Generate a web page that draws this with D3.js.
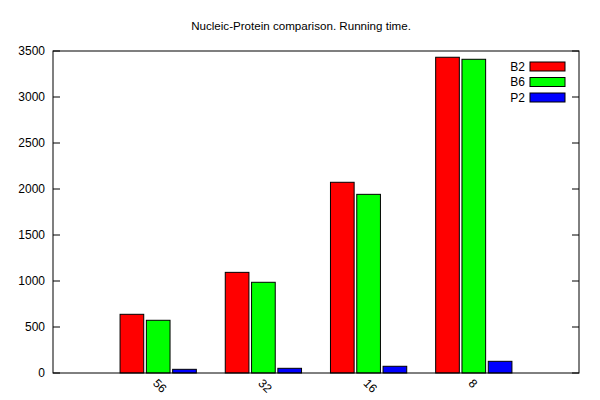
<!DOCTYPE html>
<meta charset="utf-8">
<head>
	<title>Nucleic-Protein comparison</title>
	<script type="text/javascript" src="https://cdn.jsdelivr.net/npm/d3@7"></script>
	<style>
		body { margin: 0; background: #fff; }
		text { font-family: "Liberation Sans", Arial, sans-serif; font-size: 12px; fill: #000; }
	</style>
</head>
<body>
	<div id="chart"></div>
	<script>

		// data
		const categories = ["56", "32", "16", "8"];
		const seriesNames = ["B2", "B6", "P2"];
		const seriesColors = ["#ff0000", "#00ff00", "#0000ff"];
		const b2 = [638, 1094, 2073, 3432];
		const b6 = [573, 986, 1942, 3410];
		const p2 = [40, 51, 73, 127];
		const yTicks = [0, 500, 1000, 1500, 2000, 2500, 3000, 3500];

		const width = 600;
		const height = 400;
		const margin = {top: 51, right: 21, bottom: 27, left: 53};

		const svg = d3.select("#chart")
			.append("svg")
			.attr("width", width)
			.attr("height", height);

		// gnuplot style clustered histogram: groups at 0..n-1, range -1..n
		var x = d3.scaleLinear()
			.domain([-1, categories.length])
			.range([margin.left, width - margin.right]);

		var y = d3.scaleLinear()
			.domain([0, 3500])
			.range([height - margin.bottom, margin.top]);

		const slot = 1 / (seriesNames.length + 1);
		const barW = slot * 0.9;
		const allSeries = [b2, b6, p2];

		// bars
		allSeries.forEach(function (vals, s) {
			svg.append("g")
				.selectAll("rect")
				.data(vals)
				.enter()
				.append("rect")
				.attr("x", (d, i) => x(i + (s - 1) * slot - barW / 2))
				.attr("width", x(barW) - x(0))
				.attr("y", d => y(d))
				.attr("height", d => y(0) - y(d))
				.attr("fill", seriesColors[s])
				.attr("stroke", "#000")
				.attr("stroke-width", 1);
		});

		// y axis, ticks inward on both sides
		var yAxis = svg.append("g");
		yAxis.selectAll("line.l")
			.data(yTicks)
			.enter().append("line")
			.attr("x1", margin.left).attr("x2", margin.left + 7)
			.attr("y1", d => y(d)).attr("y2", d => y(d))
			.attr("stroke", "#000");
		yAxis.selectAll("line.r")
			.data(yTicks)
			.enter().append("line")
			.attr("x1", width - margin.right - 7).attr("x2", width - margin.right)
			.attr("y1", d => y(d)).attr("y2", d => y(d))
			.attr("stroke", "#000");
		yAxis.selectAll("text")
			.data(yTicks)
			.enter().append("text")
			.attr("x", margin.left - 8)
			.attr("y", d => y(d))
			.attr("dy", "0.35em")
			.attr("text-anchor", "end")
			.text(d => d);

		// x tick labels, rotated
		svg.append("g")
			.selectAll("text")
			.data(categories)
			.enter().append("text")
			.attr("transform", (d, i) => `translate(${x(i)},${height - margin.bottom + 5}) rotate(45)`)
			.attr("dy", "0.7em")
			.text(d => d);

		// frame
		svg.append("rect")
			.attr("x", margin.left)
			.attr("y", margin.top)
			.attr("width", width - margin.left - margin.right)
			.attr("height", height - margin.top - margin.bottom)
			.attr("fill", "none")
			.attr("stroke", "#000");

		// legend
		var legend = svg.append("g");
		seriesNames.forEach(function (name, s) {
			var ly = 66.5 + s * 15.5;
			legend.append("text")
				.attr("x", 525)
				.attr("y", ly)
				.attr("dy", "0.35em")
				.attr("text-anchor", "end")
				.text(name);
			legend.append("rect")
				.attr("x", 530)
				.attr("y", ly - 4.5)
				.attr("width", 35)
				.attr("height", 9)
				.attr("fill", seriesColors[s])
				.attr("stroke", "#000");
		});

		svg.append("text")
			.attr("x", 301)
			.attr("y", 30)
			.attr("text-anchor", "middle")
			.style("font-size", "11.6px")
			.text("Nucleic-Protein comparison. Running time.");
	</script>
</body>
</html>
